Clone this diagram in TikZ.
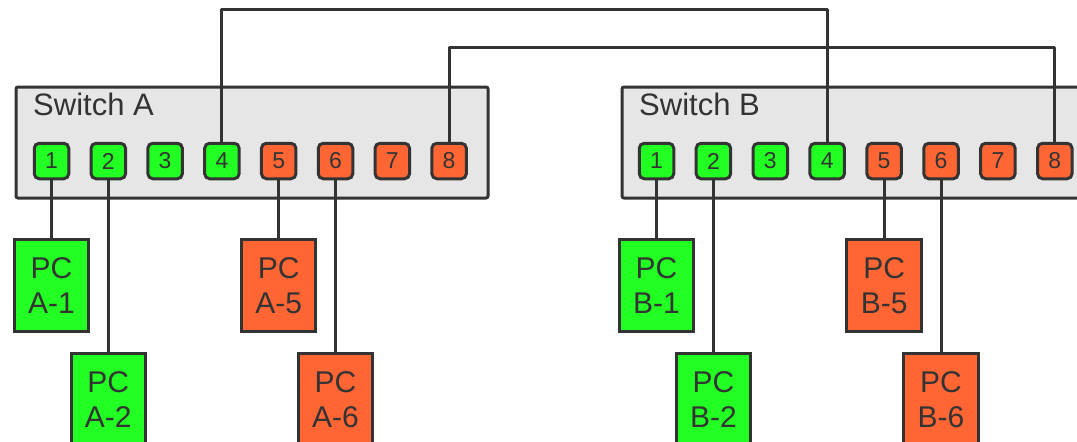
\documentclass[tikz,border=0pt]{standalone}
\usepackage{fontspec}
\setmainfont{Liberation Sans}
\definecolor{gr}{HTML}{22FF22}
\definecolor{org}{HTML}{FF6633}
\definecolor{sw}{HTML}{E6E6E6}
\definecolor{ink}{HTML}{333333}
\tikzset{
 swbox/.style={draw=ink, line width=3pt, fill=sw, rounded corners=2pt, anchor=north west, inner sep=0pt, minimum width=472pt, minimum height=111pt},
 swlabel/.style={anchor=base west, inner sep=0pt, text=ink, font=\fontsize{31}{31}\selectfont},
 portbox/.style={draw=ink, line width=3pt, rounded corners=5pt, minimum width=34.5pt, minimum height=35.5pt, inner sep=0pt, text=ink, font=\fontsize{23}{23}\selectfont},
 pcbox/.style={draw=ink, line width=3pt, minimum width=74.5pt, minimum height=92.5pt, inner sep=0pt, align=center, text=ink, font=\fontsize{30}{35}\selectfont, anchor=north},
 wire/.style={draw=ink, line width=3pt, line join=round},
}
\begin{document}
\begin{tikzpicture}[x=1pt,y=-1pt]
\path[use as bounding box] (0,0) rectangle (1077,442);
\clip (0,0) rectangle (1077,442);
\node[swbox] (swA) at (14.5,85.5) {};
\node[swbox] (swB) at (620.5,85.5) {};
\node[swlabel] (labA) at (33,115) {Switch A};
\node[swlabel] (labB) at (639,115) {Switch B};
\coordinate (row1) at (0,237.5);
\coordinate (row2) at (0,351.5);
\coordinate (top1) at (0,9);
\coordinate (top2) at (0,47);
\foreach \i/\c in {1/gr,2/gr,3/gr,4/gr,5/org,6/org,7/org,8/org} {
 \node[portbox, fill=\c] (pA\i) at ({51.5+(\i-1)*56.8},161) {\i};
 \node[portbox, fill=\c] (pB\i) at ({656.5+(\i-1)*56.9},161) {\i};
}
\draw[wire] (pA4.north) -- (pA4.north |- top1) -- (pB4.north |- top1) -- (pB4.north);
\draw[wire] (pA8.north) -- (pA8.north |- top2) -- (pB8.north |- top2) -- (pB8.north);
\foreach \s/\n/\c/\r in {A/1/gr/1, A/2/gr/2, A/5/org/1, A/6/org/2, B/1/gr/1, B/2/gr/2, B/5/org/1, B/6/org/2} {
 \node[pcbox, fill=\c] (pc\s\n) at (p\s\n.south |- row\r) {PC\\\s-\n};
 \draw[wire] (p\s\n.south) -- (pc\s\n.north);
}
\end{tikzpicture}
\end{document}
